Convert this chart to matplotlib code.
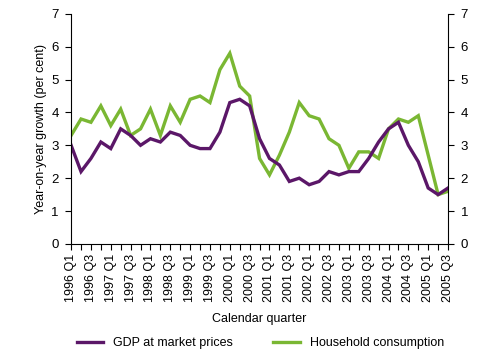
import matplotlib
matplotlib.use("Agg")
import matplotlib.pyplot as plt
import numpy as np

plt.rcParams['font.family'] = ['Liberation Sans', 'DejaVu Sans']

quarters = [f"{y} Q{q}" for y in range(1996, 2006) for q in range(1, 5)][:39]
gdp = [3.0, 2.2, 2.6, 3.1, 2.9, 3.5, 3.3, 3.0, 3.2, 3.1,
       3.4, 3.3, 3.0, 2.9, 2.9, 3.4, 4.3, 4.4, 4.2, 3.2,
       2.6, 2.4, 1.9, 2.0, 1.8, 1.9, 2.2, 2.1, 2.2, 2.2,
       2.6, 3.1, 3.5, 3.7, 3.0, 2.5, 1.7, 1.5, 1.7]
household = [3.3, 3.8, 3.7, 4.2, 3.6, 4.1, 3.3, 3.5, 4.1, 3.3,
             4.2, 3.7, 4.4, 4.5, 4.3, 5.3, 5.8, 4.8, 4.5, 2.6,
             2.1, 2.7, 3.4, 4.3, 3.9, 3.8, 3.2, 3.0, 2.3, 2.8,
             2.8, 2.6, 3.5, 3.8, 3.7, 3.9, 2.7, 1.5, 1.6]

purple = '#5b1768'
green = '#7ab733'

fig = plt.figure(figsize=(4.87, 3.55), dpi=100)
ax = fig.add_axes([0.146, 0.313, 0.774, 0.648])
x = np.arange(len(quarters))
ax.plot(x, household, color=green, lw=2.4, label='Household consumption', solid_joinstyle='miter')
ax.plot(x, gdp, color=purple, lw=2.4, label='GDP at market prices', solid_joinstyle='miter')

ax.set_xlim(0, len(quarters) - 1)
ax.set_ylim(0, 7)
ax.set_xticks(x)
ax.set_xticklabels([q if i % 2 == 0 else '' for i, q in enumerate(quarters)], rotation=90)
ax.set_yticks(range(0, 8))
ax.tick_params(axis='both', length=4, width=0.8, direction='out', color='black')
ax.tick_params(axis='x', labelsize=9, pad=3)
ax.tick_params(axis='y', which='both', right=True, labelright=True, labelsize=9.5, pad=5)
ax.spines['top'].set_visible(False)
for s in ['left', 'right', 'bottom']:
    ax.spines[s].set_linewidth(0.8)
ax.set_ylabel('Year-on-year growth (per cent)', fontsize=9, labelpad=3)
ax.set_xlabel('Calendar quarter', fontsize=9, labelpad=8)

h, l = ax.get_legend_handles_labels()
fig.legend([h[1], h[0]], [l[1], l[0]], loc='lower center', bbox_to_anchor=(0.535, -0.015),
           ncol=2, frameon=False, fontsize=9, handlelength=2.1, columnspacing=3.2)

fig.savefig('out.png', dpi=100)
